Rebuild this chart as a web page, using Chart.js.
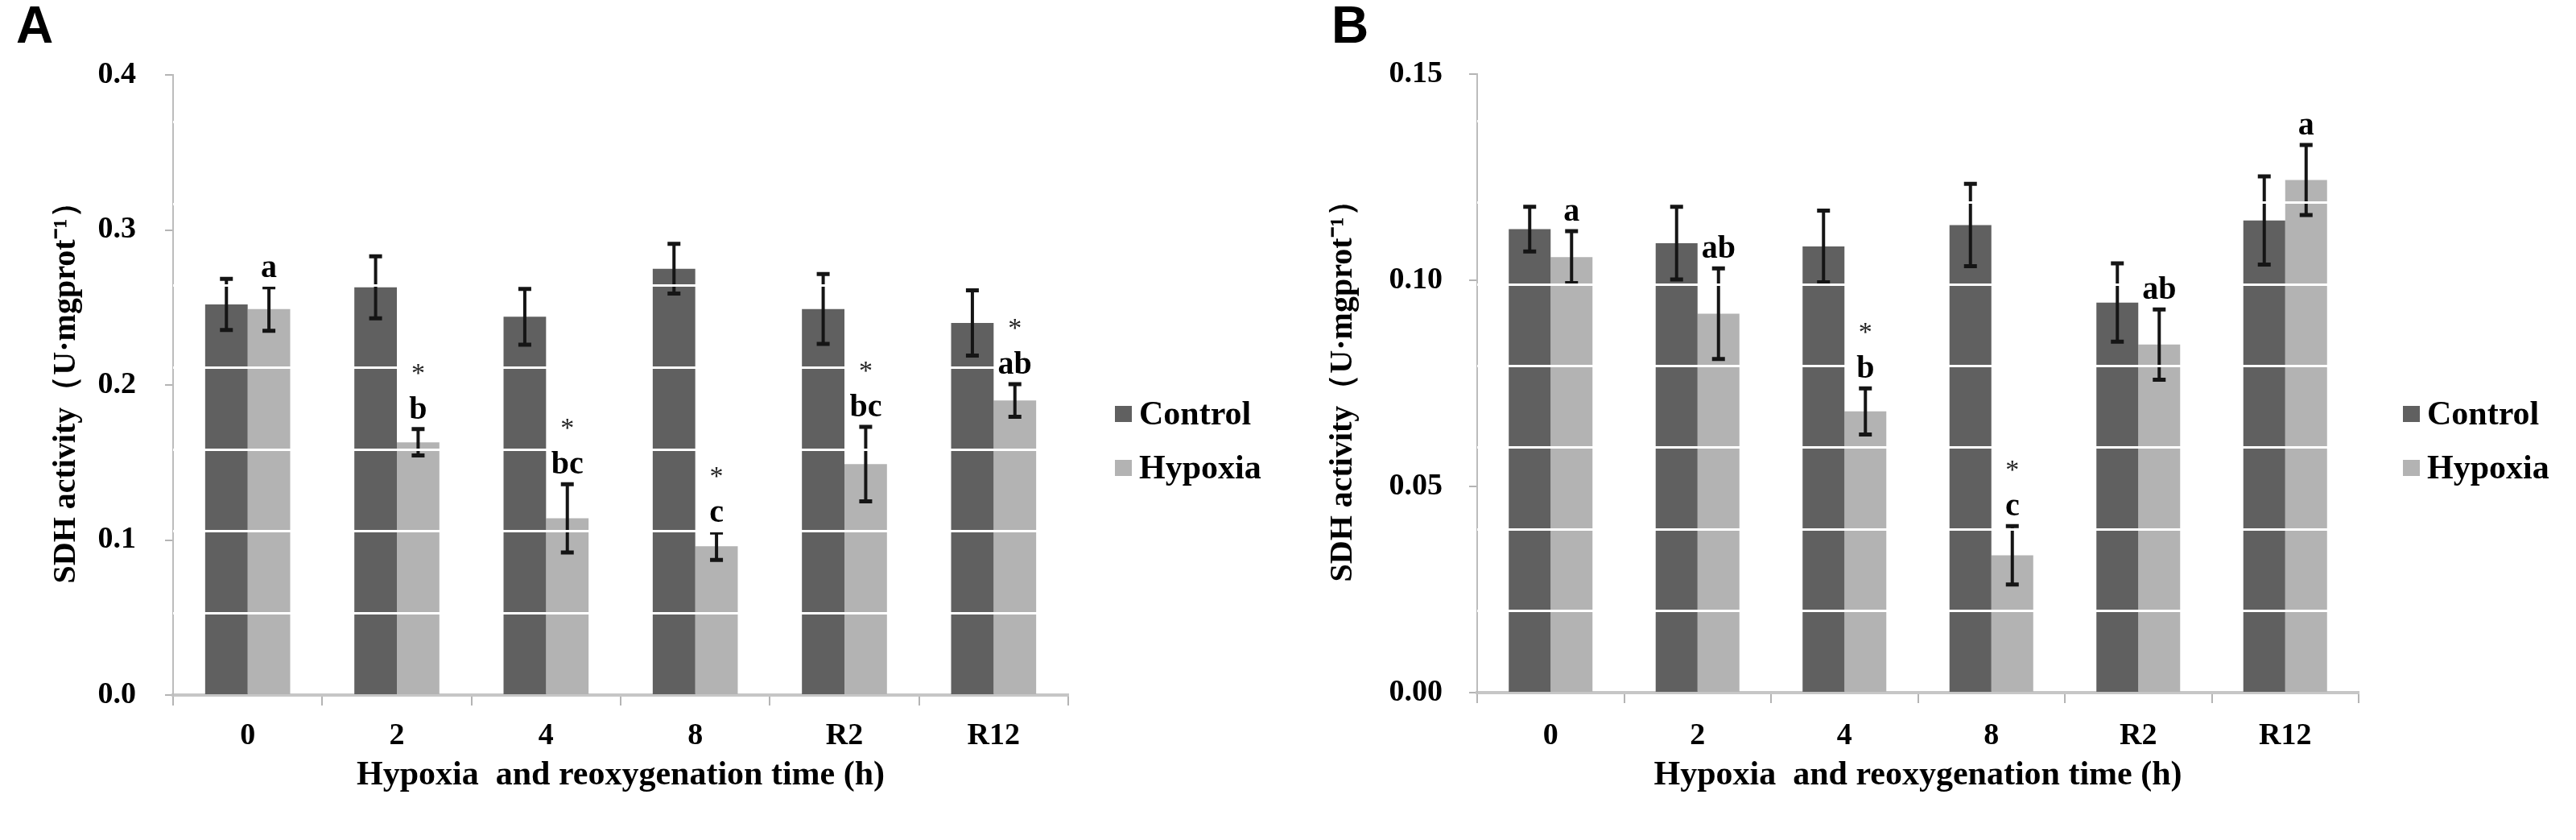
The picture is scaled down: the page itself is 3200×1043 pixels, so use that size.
<!DOCTYPE html>
<html>
<head>
<meta charset="utf-8">
<script src="https://cdn.jsdelivr.net/npm/chart.js@4.4.0/dist/chart.umd.min.js"></script>
<style>
  body { margin: 0; background: #fff; }
  #wrap { position: relative; width: 3200px; height: 1043px; overflow: hidden; background: #fff; }
  canvas { position: absolute; top: 0; }
  .tag { position: absolute; top: -1px; font: bold 64px "Liberation Sans", Arial, sans-serif; line-height: 64px; color: #000; }
</style>
</head>
<body>
<div id="wrap">
  <canvas id="chartA" width="1600" height="1043" style="left:0"></canvas>
  <canvas id="chartB" width="1600" height="1043" style="left:1600px"></canvas>
  <div class="tag" style="left:20px">A</div>
  <div class="tag" style="left:1654px">B</div>
</div>
<script>
// data
const categories = ['0', '2', '4', '8', 'R2', 'R12'];
const seriesNames = ['Control', 'Hypoxia'];

// panel A
const controlA   = [0.252, 0.263, 0.244, 0.275, 0.249, 0.240];
const controlAsd = [0.0165, 0.020, 0.018, 0.016, 0.0225, 0.021];
const hypoxiaA   = [0.249, 0.163, 0.114, 0.096, 0.149, 0.190];
const hypoxiaAsd = [0.014, 0.0085, 0.022, 0.0088, 0.024, 0.0105];
const lettersA   = ['a', 'b', 'bc', 'c', 'bc', 'ab'];
const starsA     = [false, true, true, true, true, true];

// panel B
const controlB   = [0.1124, 0.109, 0.1082, 0.1134, 0.0946, 0.1145];
const controlBsd = [0.0054, 0.0088, 0.0087, 0.010, 0.0095, 0.0107];
const hypoxiaB   = [0.1056, 0.0919, 0.0682, 0.0333, 0.0844, 0.1243];
const hypoxiaBsd = [0.0063, 0.011, 0.0056, 0.0071, 0.0085, 0.0085];
const lettersB   = ['a', 'ab', 'b', 'c', 'ab', 'a'];
const starsB     = [false, false, true, true, false, false];

const xTitle = 'Hypoxia  and reoxygenation time (h)';
const yTitle = 'SDH activity（U·mgprot⁻¹）';

const SERIF = '"Liberation Serif", "Times New Roman", serif';
const colors = ['#606060', '#b3b3b3'];

// error bars, drawn from the bar elements (white gridlines go over them)
const errorBars = {
  id: 'errorBars',
  afterDatasetsDraw(chart) {
    const ctx = chart.ctx;
    const y = chart.scales.y;
    ctx.save();
    ctx.strokeStyle = '#151515';
    chart.data.datasets.forEach((ds, di) => {
      const meta = chart.getDatasetMeta(di);
      meta.data.forEach((bar, i) => {
        const v = ds.data[i], e = ds.errors[i];
        const top = y.getPixelForValue(v + e);
        const bot = y.getPixelForValue(v - e);
        ctx.lineWidth = 4;
        ctx.beginPath();
        ctx.moveTo(bar.x, top); ctx.lineTo(bar.x, bot);
        ctx.stroke();
        ctx.lineWidth = 5;
        ctx.beginPath();
        ctx.moveTo(bar.x - 8, top); ctx.lineTo(bar.x + 8, top);
        ctx.moveTo(bar.x - 8, bot); ctx.lineTo(bar.x + 8, bot);
        ctx.stroke();
      });
    });
    ctx.restore();
  }
};

// significance letters above the hypoxia bars, on top of everything
const sigLetters = {
  id: 'sigLetters',
  afterDraw(chart, args, opts) {
    const ctx = chart.ctx;
    const y = chart.scales.y;
    const hyp = chart.data.datasets[1];
    const meta = chart.getDatasetMeta(1);
    ctx.save();
    ctx.textAlign = 'center';
    ctx.textBaseline = 'alphabetic';
    meta.data.forEach((bar, i) => {
      const top = y.getPixelForValue(hyp.data[i] + hyp.errors[i]);
      const base = top - 13;
      ctx.fillStyle = '#000';
      ctx.font = 'bold 40px ' + SERIF;
      ctx.fillText(opts.letters[i], bar.x, base);
      if (opts.stars[i]) {
        ctx.fillStyle = '#222';
        ctx.font = '34px ' + SERIF;
        ctx.fillText('*', bar.x, base - 46);
      }
    });
    ctx.restore();
  }
};

// legend to the right of the plot
const sideLegend = {
  id: 'sideLegend',
  afterDraw(chart, args, opts) {
    const ctx = chart.ctx;
    const x0 = chart.chartArea.right + opts.gap;
    ctx.save();
    ctx.font = 'bold 42px ' + SERIF;
    ctx.textBaseline = 'alphabetic';
    ctx.textAlign = 'left';
    chart.data.datasets.forEach((ds, i) => {
      const yTop = opts.top + i * 67;
      ctx.fillStyle = ds.backgroundColor;
      ctx.fillRect(x0, yTop, 21, 20);
      ctx.fillStyle = '#000';
      ctx.fillText(ds.label, x0 + 30, yTop + 23);
    });
    ctx.restore();
  }
};

function makeChart(id, cfg) {
  const tickFont = { family: SERIF, size: 38, weight: 'bold' };
  return new Chart(document.getElementById(id), {
    type: 'bar',
    data: {
      labels: categories,
      datasets: [
        { label: seriesNames[0], data: cfg.control, errors: cfg.controlSd, backgroundColor: colors[0], yAxisID: 'y' },
        { label: seriesNames[1], data: cfg.hypoxia, errors: cfg.hypoxiaSd, backgroundColor: colors[1], yAxisID: 'y' }
      ]
    },
    options: {
      responsive: false,
      animation: false,
      devicePixelRatio: 1,
      categoryPercentage: 0.57,
      barPercentage: 1.0,
      layout: { padding: { top: cfg.top, right: cfg.right, left: 0, bottom: 0 } },
      plugins: {
        legend: { display: false },
        tooltip: { enabled: false },
        sigLetters: { letters: cfg.letters, stars: cfg.stars },
        sideLegend: { gap: cfg.legendGap, top: 504 }
      },
      scales: {
        x: {
          grid: { drawOnChartArea: false, drawTicks: true, tickLength: 13, color: '#b4b4b4', lineWidth: 2, offset: true },
          border: { color: '#c6c6c6', width: 4 },
          ticks: { color: '#000', font: tickFont, padding: cfg.xPad },
          title: { display: true, text: xTitle, color: '#000', font: { family: SERIF, size: 42, weight: 'bold' }, padding: { top: 0, bottom: 55 } },
          afterFit: s => { s.height = cfg.xHeight; }
        },
        y: {
          min: 0, max: cfg.max,
          ticks: { stepSize: cfg.step, color: '#000', font: tickFont, padding: cfg.yPad, callback: v => v.toFixed(cfg.digits) },
          grid: { drawOnChartArea: false, drawTicks: true, tickLength: 10, color: '#b4b4b4', lineWidth: 2 },
          border: { color: '#bcbcbc', width: 2 },
          title: { display: true, text: yTitle, color: '#000', font: { family: SERIF, size: 40, weight: 'bold' }, padding: { top: cfg.titlePad, bottom: 0 } },
          afterFit: s => { s.width = cfg.yWidth; }
        },
        // white gridlines that show only over the bars
        yg: {
          type: 'linear', position: 'left', min: 0, max: cfg.max, z: 1,
          ticks: { display: false },
          border: { display: false },
          grid: { color: '#ffffff', lineWidth: 3, drawTicks: false, z: 1 },
          afterFit: s => { s.width = 0; },
          afterBuildTicks: s => {
            const t = [];
            for (let k = 1; k * cfg.gridStep < cfg.max; k++) t.push({ value: k * cfg.gridStep });
            s.ticks = t;
          }
        }
      }
    },
    plugins: [errorBars, sigLetters, sideLegend]
  });
}

makeChart('chartA', {
  control: controlA, controlSd: controlAsd, hypoxia: hypoxiaA, hypoxiaSd: hypoxiaAsd,
  letters: lettersA, stars: starsA,
  max: 0.4, step: 0.1, digits: 1, gridStep: 0.0528,
  top: 93, right: 273, yWidth: 215, xHeight: 180,
  yPad: 36, xPad: 15, titlePad: 59, legendGap: 58
});

makeChart('chartB', {
  control: controlB, controlSd: controlBsd, hypoxia: hypoxiaB, hypoxiaSd: hypoxiaBsd,
  letters: lettersB, stars: starsB,
  max: 0.15, step: 0.05, digits: 2, gridStep: 0.0198,
  top: 92, right: 270, yWidth: 235, xHeight: 183,
  yPad: 33, xPad: 18, titlePad: 45, legendGap: 55
});
</script>
</body>
</html>
